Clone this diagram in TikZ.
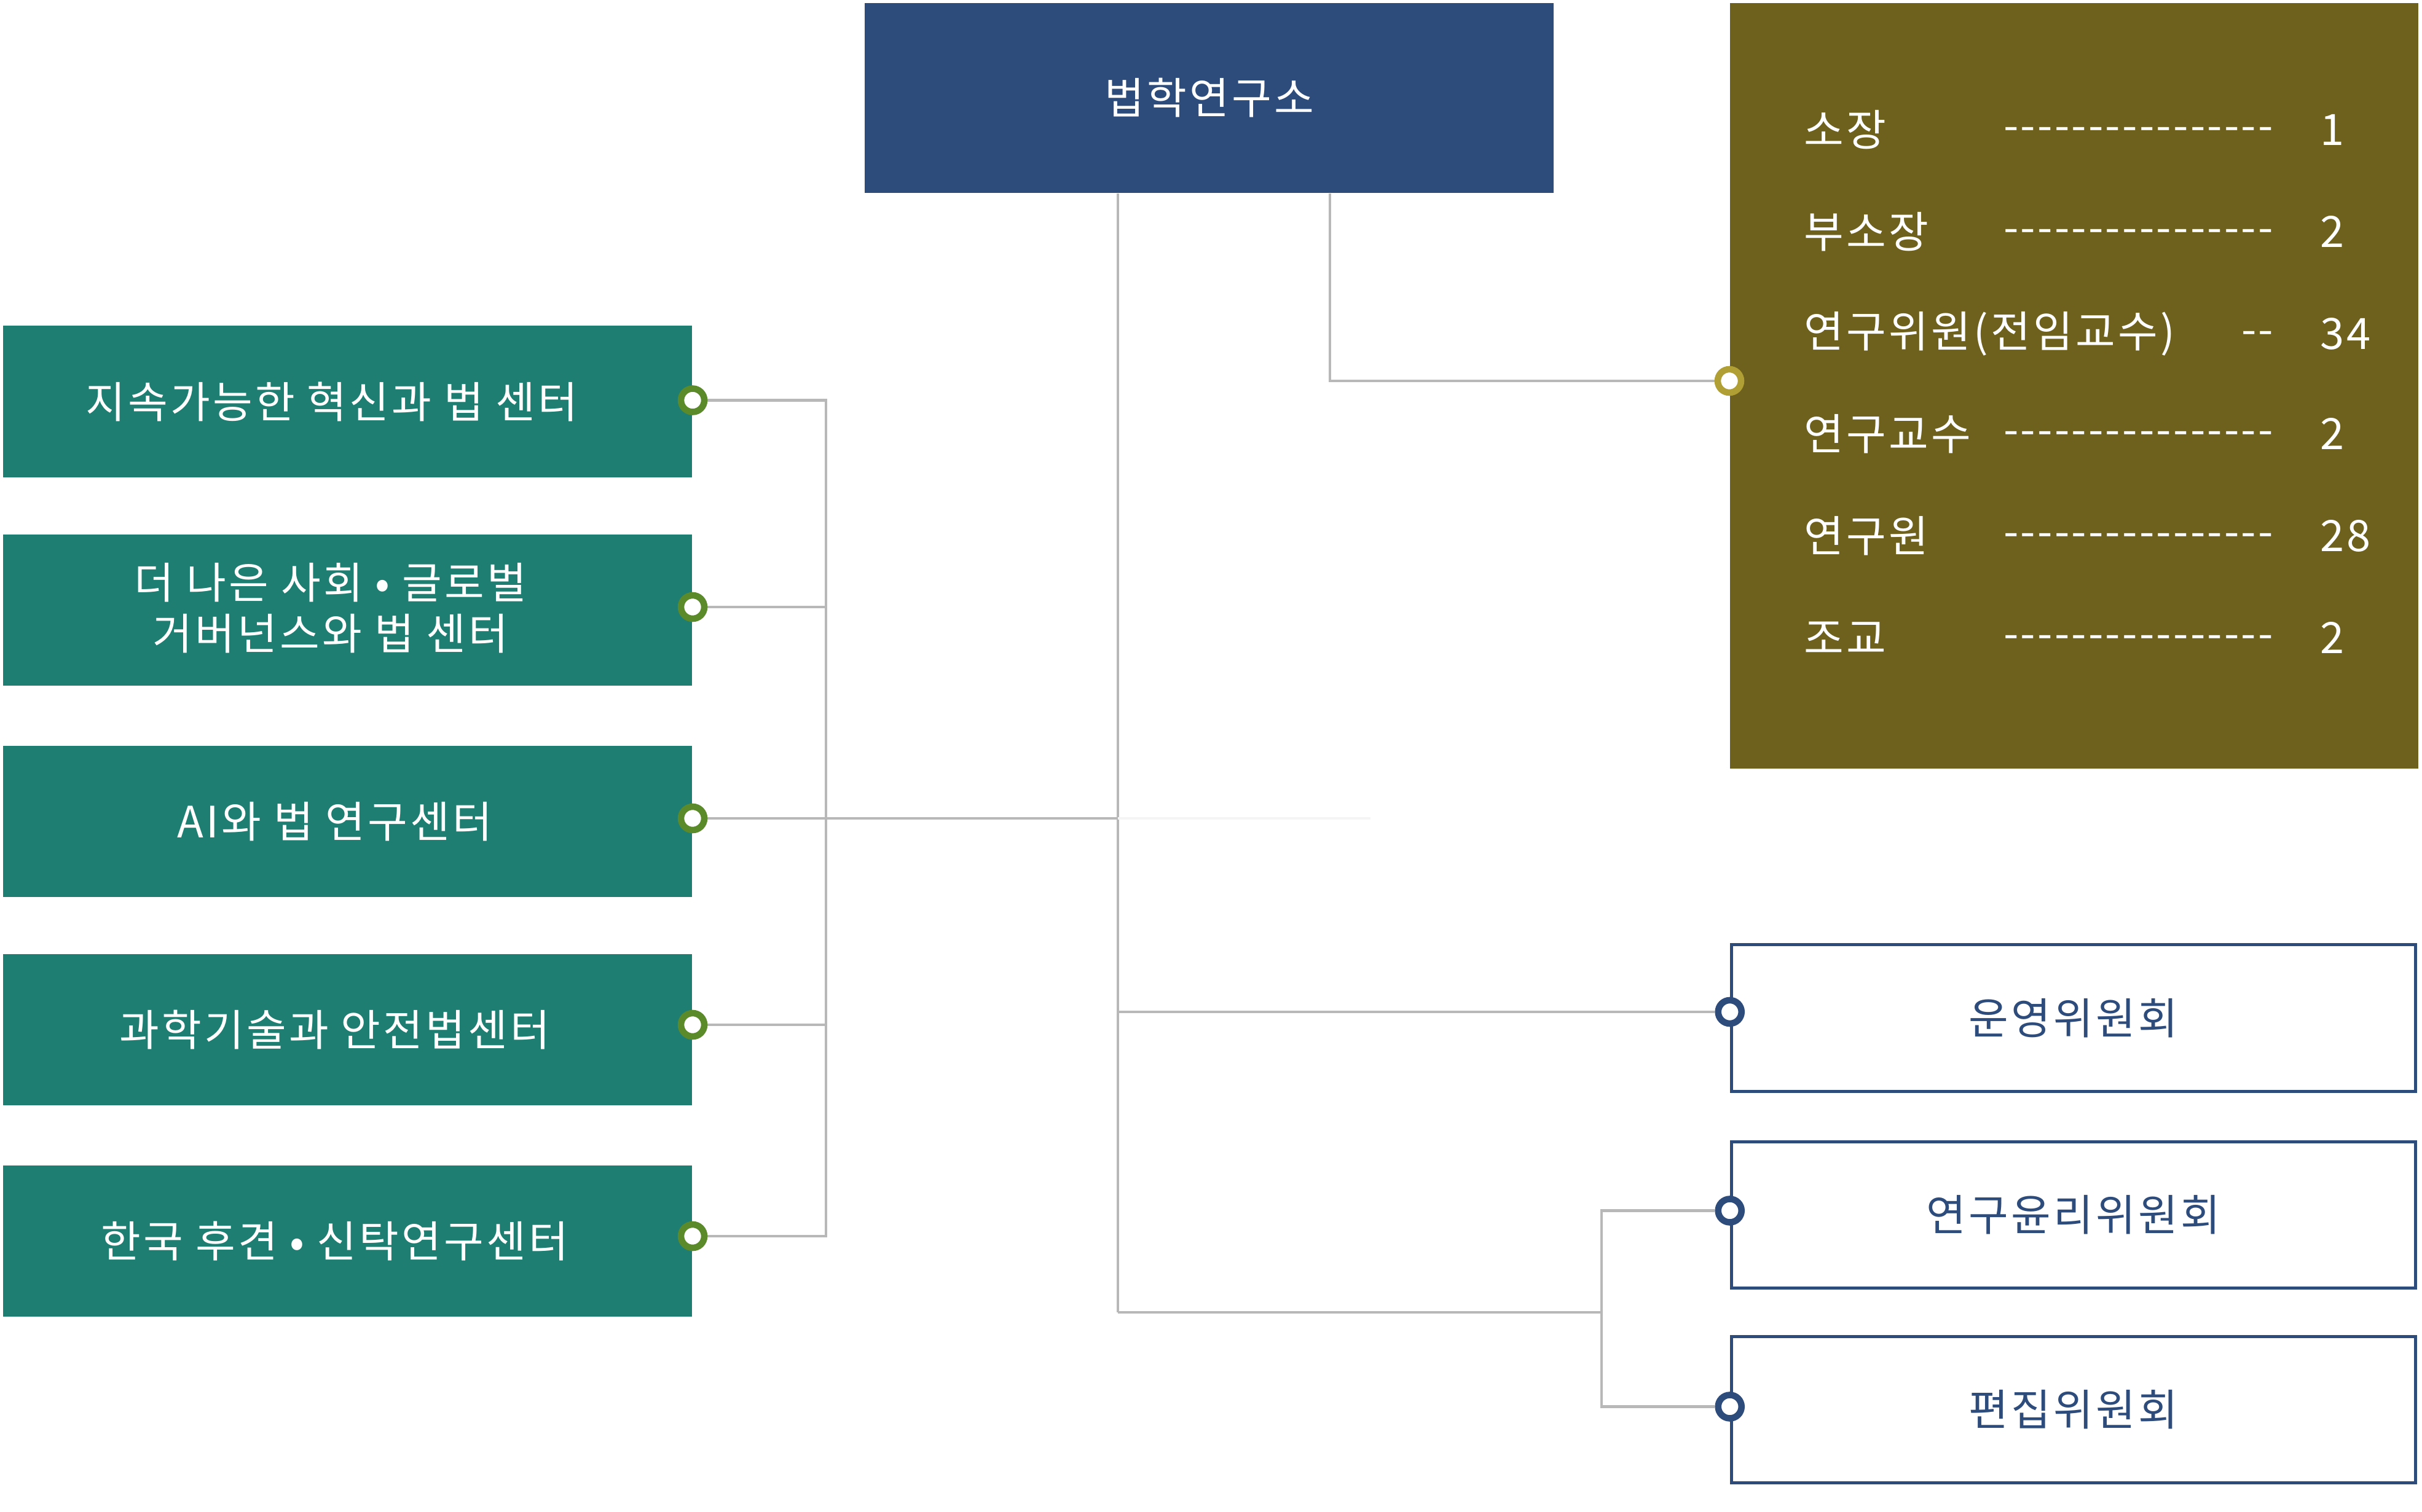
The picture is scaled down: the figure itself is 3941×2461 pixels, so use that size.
\documentclass[tikz,border=0pt]{standalone}
\usepackage{fontspec}
\setmainfont{Noto Sans CJK KR}[LetterSpace=6]
\usetikzlibrary{backgrounds}
\definecolor{topblue}{HTML}{2E4C7B}
\definecolor{tealc}{HTML}{1F7E72}
\definecolor{olivec}{HTML}{6E611E}
\definecolor{linegray}{HTML}{B8B8B8}
\definecolor{dotgreen}{HTML}{5B8A2B}
\definecolor{dotgold}{HTML}{B09F35}
\newcommand\fs{\fontsize{20}{23.5}\selectfont}
\newcommand\hyph{\makebox[0.276cm]{-}}
\newcommand\dashline{\hyph\hyph\hyph\hyph\hyph\hyph\hyph\hyph\hyph\hyph\hyph\hyph\hyph\hyph\hyph\hyph}
\begin{document}
\begin{tikzpicture}[x=0.01cm,y=-0.01cm,
  topbox/.style={fill=topblue, draw=none, minimum width=11.21cm, minimum height=3.09cm, inner sep=0, text=white, font=\fs},
  gbox/.style={fill=tealc, draw=none, minimum width=11.21cm, minimum height=2.46cm, inner sep=0},
  gtext/.style={text=white, font=\fs, align=center, inner sep=0},
  obox/.style={fill=olivec, draw=none, minimum width=11.20cm, minimum height=12.46cm, inner sep=0},
  otext/.style={text=white, font=\fs, anchor=west, inner sep=0},
  cbox/.style={draw=topblue, line width=1.4pt, fill=white, minimum width=11.13cm, minimum height=2.38cm, inner sep=0, text=topblue, font=\fs},
  conn/.style={draw=linegray, line width=1.4pt},
  dotbase/.style={circle, fill=white, line width=3pt, minimum size=0.38cm, inner sep=0},
  gdot/.style={dotbase, draw=dotgreen},
  odot/.style={dotbase, draw=dotgold},
  cdot/.style={dotbase, draw=topblue}]
\useasboundingbox (0,0) rectangle (3941,2461);
% main box
\node[topbox] (top) at (1967.5,159.5) {법학연구소};
% left centers
\node[gbox] (g1) at (565.5,653.5) {};
\node[gbox] (g2) at (565.5,993) {};
\node[gbox] (g3) at (565.5,1337) {};
\node[gbox] (g4) at (565.5,1676) {};
\node[gbox] (g5) at (565.5,2020) {};
\node[gtext] (t1) at (540,653.5) {지속가능한 혁신과 법 센터};
\node[gtext] (t2) at (538,990) {더 나은 사회 • 글로벌\\거버넌스와 법 센터};
\node[gtext] (t3) at (545,1337) {AI와 법 연구센터};
\node[gtext] (t4) at (545,1676) {과학기술과 안전법센터};
\node[gtext] (t5) at (545,2020) {한국 후견 • 신탁연구센터};
% olive staff box
\node[obox] (ob) at (3375,628) {};
\node[otext] (l1) at (2935,211) {소장};
\node[otext] (l2) at (2935,377) {부소장};
\node[otext] (l3) at (2935,543) {연구위원(전임교수)};
\node[otext] (l4) at (2935,706) {연구교수};
\node[otext] (l5) at (2935,872) {연구원};
\node[otext] (l6) at (2935,1038) {조교};
\node[otext] (d1) at (3258,218) {\dashline};
\node[otext] (d2) at (3258,384) {\dashline};
\node[otext] (d3) at (3645,550) {\hyph\hyph};
\node[otext] (d4) at (3258,713) {\dashline};
\node[otext] (d5) at (3258,879) {\dashline};
\node[otext] (d6) at (3258,1045) {\dashline};
\node[otext] (n1) at (3775,211) {1};
\node[otext] (n2) at (3775,377) {2};
\node[otext] (n3) at (3775,543) {34};
\node[otext] (n4) at (3775,706) {2};
\node[otext] (n5) at (3775,872) {28};
\node[otext] (n6) at (3775,1038) {2};
% committees
\node[cbox] (c1) at (3374,1657) {운영위원회};
\node[cbox] (c2) at (3374,1977.5) {연구윤리위원회};
\node[cbox] (c3) at (3374,2294.5) {편집위원회};
% dots
\node[gdot] (g1d) at ([yshift=0.02cm]g1.east) {};
\node[gdot] (g2d) at ([yshift=0.05cm]g2.east) {};
\node[gdot] (g3d) at ([yshift=0.05cm]g3.east) {};
\node[gdot] (g4d) at ([yshift=0.08cm]g4.east) {};
\node[gdot] (g5d) at ([yshift=0.08cm]g5.east) {};
\node[odot] (od) at (ob.west |- 0,620) {};
\node[cdot] (c1d) at ([yshift=0.1cm]c1.west) {};
\node[cdot] (c2d) at ([yshift=0.07cm]c2.west) {};
\node[cdot] (c3d) at ([yshift=0.05cm]c3.west) {};
% helper coordinates
\coordinate (mx) at (1819,2136);
\coordinate (gb) at (1344,0);
\coordinate (ox) at (2164,0);
\coordinate (cb) at (2606,2136);
\coordinate (fadeend) at (2230,0);
\begin{scope}[on background layer]
\draw[conn] (top.south -| mx) -- (mx);
\draw[conn] (g3d) -- (g3d -| mx);
\draw[draw=black!4, line width=1.4pt] (g3d -| mx) -- (g3d -| fadeend);
\draw[conn] (g1d) -- (g1d -| gb) -- (g5d -| gb) -- (g5d);
\draw[conn] (g2d) -- (g2d -| gb);
\draw[conn] (g4d) -- (g4d -| gb);
\draw[conn] (top.south -| ox) |- (od);
\draw[conn] (mx |- c1d) -- (c1d);
\draw[conn] (mx) -- (cb);
\draw[conn] (c2d) -| (cb) |- (c3d);
\end{scope}
\end{tikzpicture}
\end{document}
